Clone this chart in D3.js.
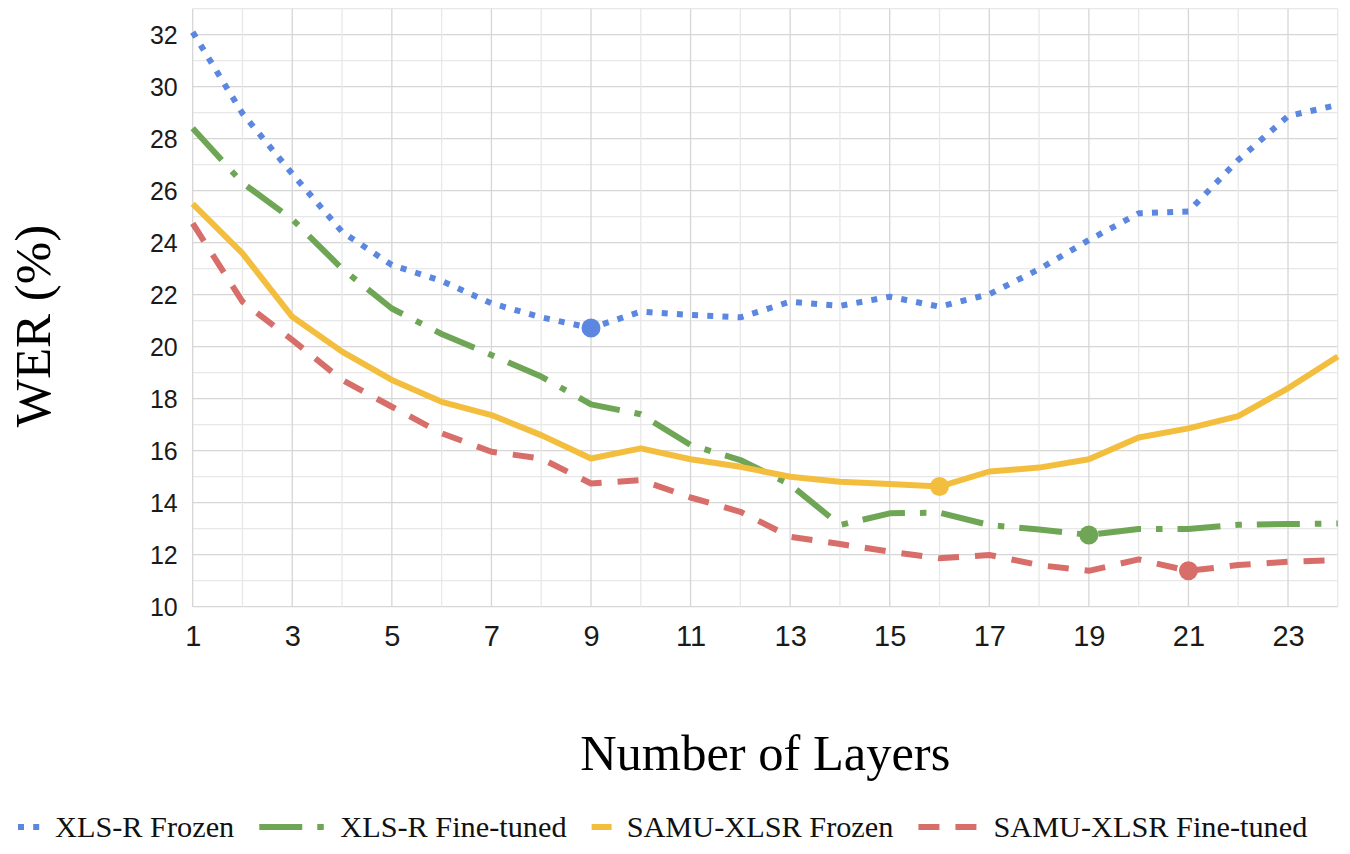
<!DOCTYPE html>
<html>
<head>
<meta charset="utf-8">
<script src="https://cdn.jsdelivr.net/npm/d3@7/dist/d3.min.js"></script>
<style>
  html, body { margin: 0; padding: 0; background: #ffffff; }
  svg { display: block; }
</style>
</head>
<body>
<svg id="chart" width="1350" height="854"></svg>
<script>
// ---- data ----
const layers = d3.range(1, 25);
const xTickValues = [1, 3, 5, 7, 9, 11, 13, 15, 17, 19, 21, 23];
const yTickValues = [10, 12, 14, 16, 18, 20, 22, 24, 26, 28, 30, 32];
const seriesNames = ["XLS-R Frozen", "XLS-R Fine-tuned", "SAMU-XLSR Frozen", "SAMU-XLSR Fine-tuned"];
const xlsrFrozen = [32.1, 28.97, 26.65, 24.42, 23.14, 22.53, 21.67, 21.13, 20.72, 21.35, 21.22, 21.13,
                    21.73, 21.57, 21.92, 21.54, 22.02, 22.98, 24.1, 25.13, 25.2, 27.18, 28.87, 29.3];
const xlsrFineTuned = [28.4, 26.3, 24.9, 23.0, 21.47, 20.49, 19.68, 18.85, 17.78, 17.4, 16.22, 15.64,
                       14.7, 13.14, 13.59, 13.62, 13.14, 12.97, 12.76, 12.99, 12.99, 13.15, 13.18, 13.2];
const samuFrozen = [25.49, 23.59, 21.15, 19.81, 18.72, 17.88, 17.37, 16.6, 15.7, 16.09, 15.67, 15.38,
                    15.0, 14.81, 14.72, 14.62, 15.2, 15.35, 15.67, 16.51, 16.86, 17.33, 18.4, 19.62];
const samuFineTuned = [24.74, 21.73, 20.26, 18.72, 17.69, 16.67, 15.96, 15.7, 14.74, 14.87, 14.2, 13.65,
                       12.69, 12.41, 12.12, 11.86, 11.99, 11.6, 11.38, 11.82, 11.38, 11.6, 11.73, 11.79];
const minLayers = [9, 19, 16, 21]; // highlighted (best) layer per series

// ---- styles ----
const colors = ["#5b87e1", "#6fa656", "#f3be3d", "#d86e6a"];
const dashes = ["6 9.2", "43 15 6.5 15", null, "21 16"];
const values = [xlsrFrozen, xlsrFineTuned, samuFrozen, samuFineTuned];

const svg = d3.select("#chart");
const plotLeft = 192.7, plotRight = 1337.8, plotTop = 8.7, plotBottom = 606.7;

const x = d3.scaleLinear().domain([1, 24]).range([plotLeft, plotRight]);
const y = d3.scaleLinear().domain([10, 33]).range([plotBottom, plotTop]);

// ---- grid ----
const grid = svg.append("g");
grid.selectAll("line.h").data(d3.range(10, 34)).join("line")
  .attr("class", "h")
  .attr("x1", plotLeft).attr("x2", plotRight)
  .attr("y1", d => y(d)).attr("y2", d => y(d))
  .attr("stroke", d => d % 2 === 0 ? "#d6d6d6" : "#e8e8e8")
  .attr("stroke-width", 1.3);
grid.selectAll("line.v").data(layers).join("line")
  .attr("class", "v")
  .attr("y1", plotTop).attr("y2", plotBottom)
  .attr("x1", d => x(d)).attr("x2", d => x(d))
  .attr("stroke", d => d % 2 === 1 ? "#d6d6d6" : "#e8e8e8")
  .attr("stroke-width", 1.3);

// ---- axes ----
const yAxis = d3.axisLeft(y).tickValues(yTickValues).tickSize(0).tickPadding(15).tickFormat(d3.format("d"));
const gy = svg.append("g").attr("transform", `translate(${plotLeft},0)`).call(yAxis);
gy.select(".domain").remove();
gy.selectAll("text")
  .attr("font-family", "'Liberation Sans', Arial, sans-serif")
  .attr("font-size", 25).attr("fill", "#1a1a1a").attr("dy", "0.36em");

const xAxis = d3.axisBottom(x).tickValues(xTickValues).tickSize(0).tickPadding(19).tickFormat(d3.format("d"));
const gx = svg.append("g").attr("transform", `translate(0,${plotBottom})`).call(xAxis);
gx.select(".domain").remove();
gx.selectAll("text")
  .attr("font-family", "'Liberation Sans', Arial, sans-serif")
  .attr("font-size", 29).attr("fill", "#1a1a1a").attr("dy", "0.71em");

// axis titles
svg.append("text")
  .attr("transform", `translate(50,326) rotate(-90)`)
  .attr("text-anchor", "middle")
  .attr("font-family", "'Liberation Serif', 'Times New Roman', serif")
  .attr("font-size", 51).attr("fill", "#000")
  .text("WER (%)");
svg.append("text")
  .attr("x", (plotLeft + plotRight) / 2).attr("y", 770)
  .attr("text-anchor", "middle")
  .attr("font-family", "'Liberation Serif', 'Times New Roman', serif")
  .attr("font-size", 50.5).attr("fill", "#000")
  .text("Number of Layers");

// ---- lines ----
const line = d3.line().x((d, i) => x(layers[i])).y(d => y(d));
values.forEach((vals, k) => {
  svg.append("path")
    .datum(vals)
    .attr("d", line)
    .attr("fill", "none")
    .attr("stroke", colors[k])
    .attr("stroke-width", 6)
    .attr("stroke-linejoin", "round")
    .attr("stroke-dasharray", dashes[k]);
});
// highlight markers
values.forEach((vals, k) => {
  const L = minLayers[k];
  svg.append("circle")
    .attr("cx", x(L)).attr("cy", y(vals[L - 1]))
    .attr("r", 9.5)
    .attr("fill", colors[k]);
});

// ---- legend ----
const symWidths = [22, 66, 20, 60];
const legend = svg.append("g");
let lx = 18;
const ly = 827;
seriesNames.forEach((name, k) => {
  legend.append("line")
    .attr("x1", lx).attr("x2", lx + symWidths[k])
    .attr("y1", ly).attr("y2", ly)
    .attr("stroke", colors[k]).attr("stroke-width", 6)
    .attr("stroke-dasharray", dashes[k]);
  lx += symWidths[k] + 15;
  const t = legend.append("text")
    .attr("x", lx).attr("y", 837)
    .attr("font-family", "'Liberation Serif', 'Times New Roman', serif")
    .attr("font-size", 30.3).attr("fill", "#111")
    .text(name);
  lx += t.node().getComputedTextLength() + 25;
});
</script>
</body>
</html>
